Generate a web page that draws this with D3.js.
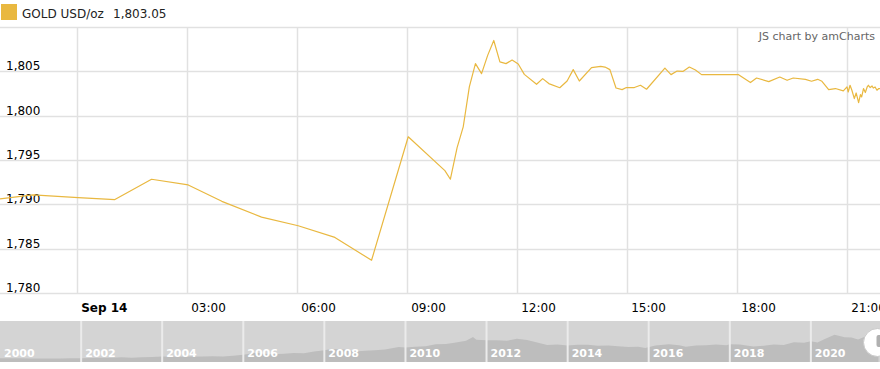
<!DOCTYPE html>
<html>
<head>
<meta charset="utf-8">
<script src="https://cdn.jsdelivr.net/npm/d3@7"></script>
<style>
  body { margin: 0; background: #fff; }
  svg { display: block; font-family: "DejaVu Sans", Verdana, sans-serif; }
</style>
</head>
<body>
<svg id="chart" width="880" height="369"></svg>
<script>
// intraday gold price, Sep 13 21:52 -> Sep 14 21:52
const priceTimes = [
  '2021-09-13 21:52', '2021-09-13 22:46', '2021-09-14 00:00', '2021-09-14 01:00', '2021-09-14 02:00',
  '2021-09-14 03:00', '2021-09-14 03:55', '2021-09-14 05:00', '2021-09-14 06:00', '2021-09-14 07:00',
  '2021-09-14 08:00', '2021-09-14 09:00', '2021-09-14 10:00', '2021-09-14 10:09', '2021-09-14 10:20',
  '2021-09-14 10:30', '2021-09-14 10:40', '2021-09-14 10:50', '2021-09-14 11:00', '2021-09-14 11:10',
  '2021-09-14 11:20', '2021-09-14 11:30', '2021-09-14 11:40', '2021-09-14 11:50', '2021-09-14 12:00',
  '2021-09-14 12:10', '2021-09-14 12:30', '2021-09-14 12:40', '2021-09-14 12:50', '2021-09-14 13:08',
  '2021-09-14 13:20', '2021-09-14 13:30', '2021-09-14 13:40', '2021-09-14 14:00', '2021-09-14 14:15',
  '2021-09-14 14:22', '2021-09-14 14:30', '2021-09-14 14:40', '2021-09-14 14:50', '2021-09-14 14:57',
  '2021-09-14 15:10', '2021-09-14 15:20', '2021-09-14 15:30', '2021-09-14 16:00', '2021-09-14 16:10',
  '2021-09-14 16:20', '2021-09-14 16:30', '2021-09-14 16:40', '2021-09-14 16:50', '2021-09-14 17:00',
  '2021-09-14 18:00', '2021-09-14 18:20', '2021-09-14 18:30', '2021-09-14 18:50', '2021-09-14 19:08',
  '2021-09-14 19:20', '2021-09-14 19:30', '2021-09-14 19:50', '2021-09-14 20:00', '2021-09-14 20:10',
  '2021-09-14 20:17', '2021-09-14 20:28', '2021-09-14 20:39', '2021-09-14 20:52', '2021-09-14 20:58',
  '2021-09-14 21:00', '2021-09-14 21:03', '2021-09-14 21:06', '2021-09-14 21:10', '2021-09-14 21:13',
  '2021-09-14 21:17', '2021-09-14 21:20', '2021-09-14 21:22', '2021-09-14 21:25', '2021-09-14 21:28',
  '2021-09-14 21:31', '2021-09-14 21:33', '2021-09-14 21:36', '2021-09-14 21:39', '2021-09-14 21:41',
  '2021-09-14 21:44', '2021-09-14 21:47', '2021-09-14 21:50', '2021-09-14 21:52'
];
const priceValues = [
  1790.62, 1791.07, 1790.76, 1790.54, 1792.83,
  1792.19, 1790.34, 1788.56, 1787.58, 1786.27,
  1783.69, 1797.62, 1793.80, 1792.83, 1796.40,
  1798.74, 1803.24, 1805.87, 1804.74, 1806.80,
  1808.48, 1806.07, 1805.87, 1806.27, 1805.82,
  1804.66, 1803.54, 1804.18, 1803.62, 1803.15,
  1803.91, 1805.19, 1803.91, 1805.42, 1805.56,
  1805.48, 1805.19, 1803.12, 1802.94, 1803.17,
  1803.17, 1803.43, 1802.98, 1805.37, 1804.63,
  1805.03, 1805.00, 1805.48, 1805.15, 1804.63,
  1804.63, 1803.73, 1804.25, 1803.84, 1804.36,
  1803.99, 1804.25, 1804.10, 1803.88, 1804.10,
  1803.88, 1802.94, 1803.06, 1802.79, 1803.24,
  1802.67, 1803.43, 1802.87, 1801.93, 1802.56,
  1801.48, 1802.38, 1802.11, 1803.06, 1802.61,
  1803.24, 1803.43, 1803.17, 1803.35, 1803.12,
  1803.24, 1802.87, 1803.06, 1803.05
];
const yTicks = [1780, 1785, 1790, 1795, 1800, 1805, 1810];
const xTickHours = [0, 3, 6, 9, 12, 15, 18, 21];

// long history shown in the scrollbar
const historyDates = [
  '2000-01', '2000-04', '2000-07', '2000-10', '2001-01', '2001-04', '2001-07', '2001-10',
  '2002-01', '2002-04', '2002-07', '2002-10', '2003-01', '2003-04', '2003-07', '2003-10',
  '2004-01', '2004-04', '2004-07', '2004-10', '2005-01', '2005-04', '2005-07', '2005-10',
  '2006-01', '2006-05', '2006-07', '2006-10', '2007-01', '2007-04', '2007-07', '2007-10',
  '2008-01', '2008-03', '2008-07', '2008-10', '2009-01', '2009-04', '2009-07', '2009-11',
  '2010-01', '2010-04', '2010-07', '2010-10', '2011-01', '2011-04', '2011-07', '2011-09', '2011-10',
  '2012-01', '2012-04', '2012-07', '2012-10', '2013-01', '2013-04', '2013-07', '2013-10',
  '2014-01', '2014-04', '2014-07', '2014-10', '2015-01', '2015-04', '2015-07', '2015-10', '2015-12',
  '2016-03', '2016-07', '2016-10', '2016-12', '2017-03', '2017-06', '2017-09', '2017-12',
  '2018-01', '2018-04', '2018-08', '2018-11', '2019-02', '2019-05', '2019-08', '2019-11',
  '2020-01', '2020-03', '2020-05', '2020-08', '2020-11', '2021-01', '2021-03', '2021-05', '2021-07', '2021-09'
];
const historyValues = [
  285, 280, 282, 270, 265, 262, 268, 278,
  282, 305, 315, 318, 355, 330, 350, 385,
  410, 395, 400, 425, 425, 430, 425, 470,
  550, 700, 630, 590, 630, 680, 665, 790,
  890, 980, 940, 800, 860, 890, 940, 1140,
  1100, 1150, 1190, 1340, 1360, 1480, 1600, 1890, 1680,
  1650, 1650, 1600, 1750, 1670, 1480, 1280, 1320,
  1240, 1300, 1310, 1220, 1250, 1200, 1130, 1150, 1060,
  1250, 1340, 1270, 1150, 1250, 1260, 1320, 1260,
  1340, 1330, 1180, 1220, 1320, 1280, 1500, 1460,
  1560, 1480, 1720, 2060, 1870, 1850, 1700, 1900, 1800, 1803
];
const yearLabels = ['2000', '2002', '2004', '2006', '2008', '2010', '2012', '2014', '2016', '2018', '2020'];

const seriesName = 'GOLD USD/oz';
const lastValue = 1803.05;
const gold = '#e9b840';

const W = 880;
const plot = { top: 27, bottom: 293 };
const scroll = { top: 321, bottom: 362 };

const parseTime = d3.timeParse('%Y-%m-%d %H:%M');
const parseMonth = d3.timeParse('%Y-%m');
const data = priceTimes.map((t, i) => ({ t: parseTime(t), v: priceValues[i] }));
const history = historyDates.map((t, i) => ({ t: parseMonth(t), v: historyValues[i] }));

const dayStart = parseTime('2021-09-14 00:00');
const x = d3.scaleTime()
  .domain([data[0].t, data[data.length - 1].t])
  .range([0, W]);
const y = d3.scaleLinear().domain([1780, 1810]).range([plot.bottom, plot.top]);

const svg = d3.select('#chart');

// grid
const grid = svg.append('g').attr('class', 'grid');
grid.selectAll('line.h')
  .data(yTicks)
  .enter().append('line')
  .attr('class', 'h')
  .attr('x1', 0).attr('x2', W)
  .attr('y1', d => Math.round(y(d)) + 0.5)
  .attr('y2', d => Math.round(y(d)) + 0.5)
  .style('stroke', '#e1e1e1')
  .style('stroke-width', 1.5);

const xTicks = xTickHours.map(h => d3.timeHour.offset(dayStart, h));
grid.selectAll('line.v')
  .data(xTicks)
  .enter().append('line')
  .attr('class', 'v')
  .attr('x1', d => Math.round(x(d)) - 0.5)
  .attr('x2', d => Math.round(x(d)) - 0.5)
  .attr('y1', plot.top).attr('y2', plot.bottom)
  .style('stroke', '#e1e1e1')
  .style('stroke-width', 1.5);

// y labels sit just above their grid line
svg.append('g')
  .selectAll('text')
  .data(yTicks.filter(d => d < 1810))
  .enter().append('text')
  .attr('x', 6)
  .attr('y', d => y(d) - 1)
  .style('font-size', '12px')
  .style('fill', '#000')
  .text(d3.format(','));

// x labels
const fmtHour = d3.timeFormat('%H:%M');
svg.append('g')
  .selectAll('text')
  .data(xTicks)
  .enter().append('text')
  .attr('x', d => x(d) + 3)
  .attr('y', 312)
  .style('font-size', '12px')
  .style('font-weight', d => (d.getHours() === 0 ? 'bold' : null))
  .style('fill', '#000')
  .text(d => (d.getHours() === 0 ? d3.timeFormat('%b %-d')(d) : fmtHour(d)));

// price line
const line = d3.line().x(d => x(d.t)).y(d => y(d.v));
svg.append('path')
  .datum(data)
  .attr('d', line)
  .style('fill', 'none')
  .style('stroke', gold)
  .style('stroke-width', 1.2)
  .style('stroke-linejoin', 'round');

// legend
svg.append('rect')
  .attr('x', 1).attr('y', 4)
  .attr('width', 16).attr('height', 16)
  .style('fill', gold);
svg.append('text')
  .attr('x', 22).attr('y', 18)
  .style('font-size', '12px')
  .style('fill', '#222')
  .text(seriesName);
svg.append('text')
  .attr('x', 113).attr('y', 18)
  .style('font-size', '12px')
  .style('fill', '#222')
  .text(d3.format(',.2f')(lastValue));

svg.append('text')
  .attr('x', 875).attr('y', 40)
  .attr('text-anchor', 'end')
  .style('font-size', '11px')
  .style('fill', '#666')
  .text('JS chart by amCharts');

// scrollbar
const sx = d3.scaleTime()
  .domain([parseMonth('2000-01'), parseTime('2021-09-14 21:52')])
  .range([0, W]);
const sy = d3.scaleLinear().domain([0, 3100]).range([scroll.bottom, scroll.top]);

const sb = svg.append('g').attr('class', 'scrollbar');
sb.append('rect')
  .attr('x', 0).attr('y', scroll.top)
  .attr('width', W).attr('height', scroll.bottom - scroll.top)
  .style('fill', '#d4d4d4');

const area = d3.area().x(d => sx(d.t)).y0(scroll.bottom).y1(d => sy(d.v));
sb.append('path')
  .datum(history)
  .attr('d', area)
  .style('fill', '#bdbdbd');

const yearDates = yearLabels.map(d => d3.timeParse('%Y')(d));
sb.selectAll('line')
  .data(yearDates.slice(1))
  .enter().append('line')
  .attr('x1', d => sx(d)).attr('x2', d => sx(d))
  .attr('y1', scroll.top).attr('y2', scroll.bottom)
  .style('stroke', '#ebebeb')
  .style('stroke-width', 2);

sb.selectAll('text')
  .data(yearDates)
  .enter().append('text')
  .attr('x', d => sx(d) + 4)
  .attr('y', 357)
  .style('font-size', '11px')
  .style('font-weight', 'bold')
  .style('fill', '#fff')
  .text(d3.timeFormat('%Y'));

// scrollbar grip at the end of the selected range
const gripX = sx(data[data.length - 1].t) - 2.5;
sb.append('circle')
  .attr('cx', gripX).attr('cy', 342.5).attr('r', 14)
  .style('fill', '#fff')
  .style('stroke', '#c8c8c8');
sb.append('rect')
  .attr('x', gripX - 1).attr('y', 335)
  .attr('width', 8).attr('height', 12)
  .attr('rx', 2)
  .style('fill', '#b0b0b0');
</script>
</body>
</html>
